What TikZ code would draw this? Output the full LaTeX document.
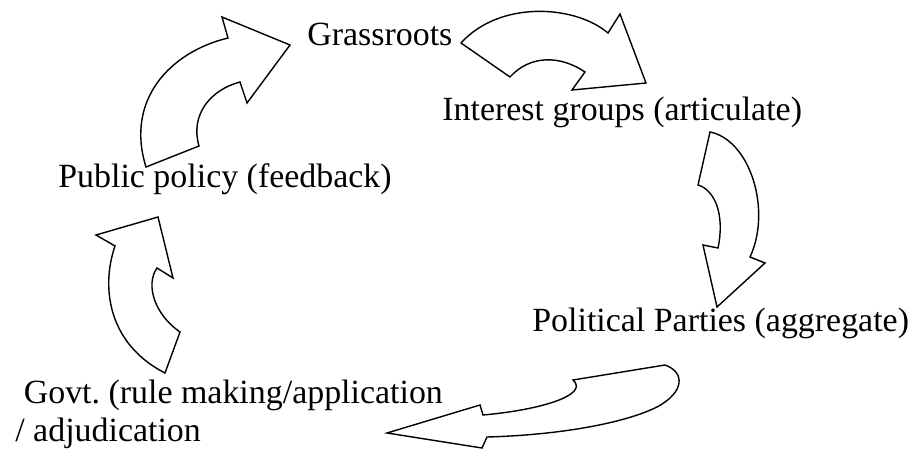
\documentclass[tikz,border=0pt]{standalone}
\usepackage{fontspec}
\setmainfont{Liberation Serif}
\usepackage{tikz}
\tikzset{
	curvedarrow/.style={draw=black, line width=0.8pt, fill=white, line join=miter},
	stagelabel/.style={inner sep=0pt, anchor=base west, align=left, font=\fontsize{19.3}{21.5}\selectfont}
}

\begin{document}
\begin{tikzpicture}[x=0.02cm, y=-0.02cm]
		%%%%% START %%%%%
		\useasboundingbox (0, 0) rectangle (921, 450);
		
		% policy -> grassroots
		\draw[curvedarrow] (146, 167) -- (199, 146) .. controls (190, 115) and (210, 90) .. (240, 82)
			-- (247, 103) -- (290, 45) -- (222, 17) -- (228, 38)
			.. controls (170, 52) and (125, 100) .. (146, 167) -- cycle;
		
		% grassroots -> interest groups
		\draw[curvedarrow] (461, 43) .. controls (500, 0) and (575, 5) .. (608, 33)
			-- (620, 14) -- (646, 83) -- (572, 90) -- (585, 72)
			.. controls (560, 55) and (530, 55) .. (510, 77) -- cycle;
		
		% interest groups -> parties
		\draw[curvedarrow] (710, 132) .. controls (750, 140) and (772, 210) .. (750, 257)
			-- (765, 263) -- (717, 307) -- (703, 245) -- (718, 248)
			.. controls (725, 215) and (715, 190) .. (698, 185) -- cycle;
		
		% parties -> govt
		\draw[curvedarrow] (387, 433) -- (480, 405) -- (483, 415)
			.. controls (540, 410) and (590, 395) .. (573, 380) -- (665, 365)
			.. controls (685, 372) and (685, 392) .. (657, 407)
			.. controls (625, 423) and (560, 435) .. (487, 437) -- (482, 448) -- cycle;
		
		% govt -> policy
		\draw[curvedarrow] (165, 373) -- (180, 332) .. controls (155, 315) and (145, 285) .. (157, 268)
			-- (173, 278) -- (158, 217) -- (96, 235) -- (115, 246)
			.. controls (100, 290) and (110, 345) .. (165, 373) -- cycle;
		
		\node[stagelabel] (grassroots) at (307, 45) {Grassroots};
		\node[stagelabel] (interest) at (442, 120) {Interest groups (articulate)};
		\node[stagelabel] (parties) at (532, 331) {Political Parties (aggregate)};
		\node[stagelabel] (govt) at (15, 441) {\ Govt.\ (rule making/application\\/ adjudication};
		\node[stagelabel] (policy) at (58, 187) {Public policy (feedback)};
		%%%%% END %%%%%
\end{tikzpicture}
\end{document}
